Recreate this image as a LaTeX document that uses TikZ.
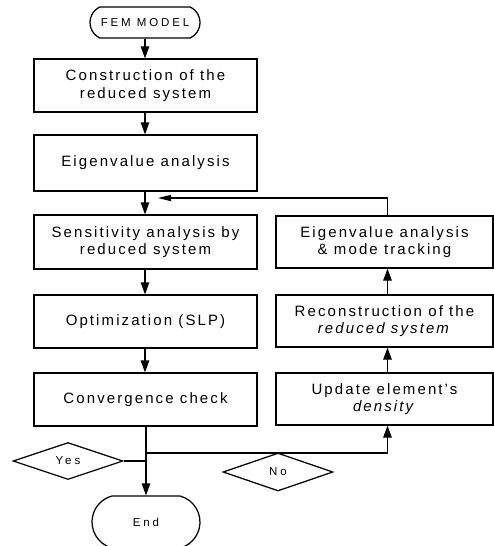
\documentclass[tikz,border=0pt]{standalone}
\usepackage{fontspec}
\setmainfont{Liberation Sans}[LetterSpace=14]
\newfontfamily\smallfont{Liberation Sans}[LetterSpace=25]
\usetikzlibrary{arrows.meta,shapes.misc,shapes.geometric}
\begin{document}
\begin{tikzpicture}[x=1pt,y=-1pt,
  line width=1.25pt,
  arr/.style={-{Triangle[length=12pt,width=8.5pt]}},
  procbox/.style={draw,rectangle,minimum height=53pt,inner sep=0pt,align=center,
    font=\fontsize{15}{17.5}\selectfont},
  leftbox/.style={procbox,minimum width=223pt},
  rightbox/.style={procbox,minimum width=217pt},
  term/.style={draw,rounded rectangle,inner sep=0pt,font=\smallfont\fontsize{11.5}{13}\selectfont},
  decis/.style={draw,diamond,aspect=2.95,inner sep=0pt,minimum width=110pt,minimum height=37pt,
    font=\smallfont\fontsize{11.5}{13}\selectfont}]
\useasboundingbox (0,0) rectangle (494,546);

\node[term,rounded rectangle arc length=130,minimum width=110pt,minimum height=31pt] (fem) at (145,22.5) {FEM MODEL};
\node[leftbox] (b1) at (145.5,85.5) {Construction of the\\reduced system};
\node[leftbox,minimum height=56pt] (b2) at (145.5,163) {Eigenvalue analysis};
\node[leftbox,minimum height=54pt] (b3) at (145.5,242) {Sensitivity analysis by\\reduced system};
\node[leftbox] (b4) at (145.5,321.5) {Optimization (SLP)};
\node[leftbox] (b5) at (145.5,399.5) {Convergence check};
\node[term,rounded rectangle arc length=150,minimum width=108pt,minimum height=52pt] (end) at (146,522) {End};

\node[rightbox,minimum height=52pt] (r1) at (384.5,242) {Eigenvalue analysis\\\& mode tracking};
\node[rightbox,minimum height=52pt] (r2) at (384.5,321) {Reconstruction of the\\\textit{reduced system}};
\node[rightbox,minimum height=52pt] (r3) at (384.5,399) {Update element's\\\textit{density}};

\node[decis] (yes) at (68,461) {Yes};
\node[decis,minimum height=38pt] (no) at (278,472) {No};

\coordinate (jn) at (145,453);
\coordinate (ju) at (387.5,453);
\coordinate (fb) at (387.5,198);
\coordinate (fbt) at (158,198);

\draw[arr] (fem.south) -- (fem.south |- b1.north);
\draw[arr] (b1.south -| fem.south) -- (b2.north -| fem.south);
\draw[arr] (b2.south -| fem.south) -- (b3.north -| fem.south);
\draw[arr] (b3.south -| fem.south) -- (b4.north -| fem.south);
\draw[arr] (b4.south -| fem.south) -- (b5.north -| fem.south);
\draw[arr] (b5.south -| end.north) -- (end.north);
\draw (yes.east) -- (yes.east -| end.north);
\draw[arr] (jn -| end.north) -- (ju) -- (ju |- r3.south);
\draw[arr] (r3.north -| ju) -- (r2.south -| ju);
\draw[arr] (r2.north -| ju) -- (r1.south -| ju);
\draw[-{Triangle[length=13pt,width=6pt]}] (r1.north -| fb) -- (fb) -- (fbt);
\end{tikzpicture}
\end{document}
